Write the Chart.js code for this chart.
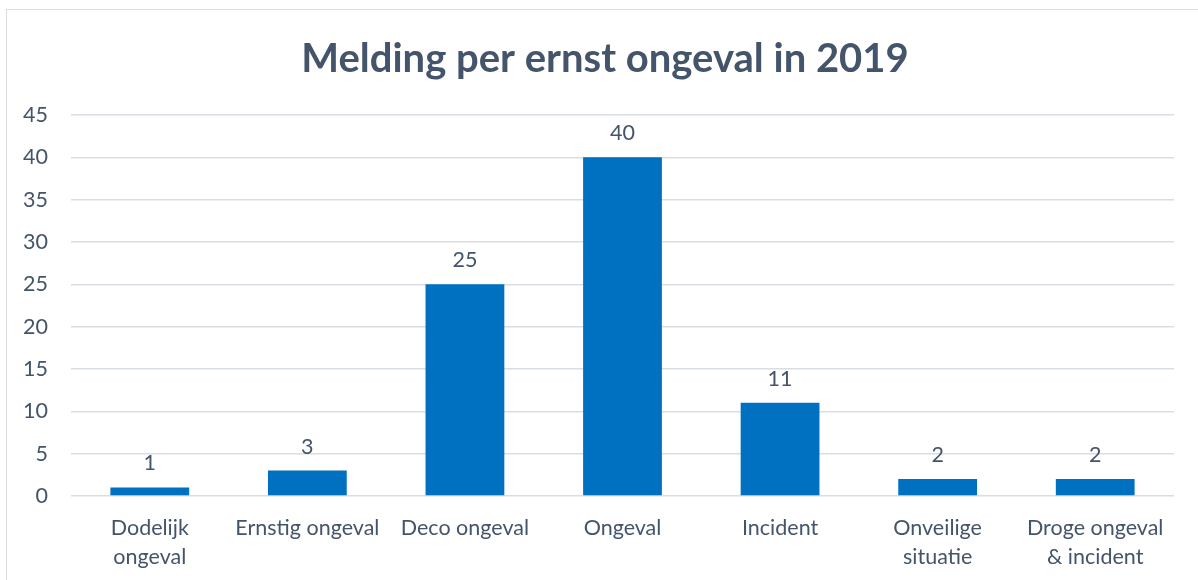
<!DOCTYPE html>
<html>
<head>
<meta charset="utf-8">
<script src="https://cdn.jsdelivr.net/npm/chart.js@4/dist/chart.umd.min.js"></script>
<style>
  html, body { margin: 0; padding: 0; background: #fff; overflow: hidden; }
  #wrap { position: relative; width: 1198px; height: 580px; }
  #frame { position: absolute; left: 6px; top: 9px; width: 1200px; height: 600px; border: 1.5px solid #D9DEE4; box-sizing: border-box; pointer-events: none; }
  canvas { position: absolute; left: 0; top: 0; }
</style>
</head>
<body>
<div id="wrap">
  <div id="frame"></div>
  <canvas id="c" width="1198" height="580"></canvas>
</div>
<script>
const chartTitle = "Melding per ernst ongeval in 2019";
const categories = [
  ["Dodelijk", "ongeval"],
  "Ernstig ongeval",
  "Deco ongeval",
  "Ongeval",
  "Incident",
  ["Onveilige", "situatie"],
  ["Droge ongeval", "& incident"]
];
const values = [1, 3, 25, 40, 11, 2, 2];
const yTicks = [0, 5, 10, 15, 20, 25, 30, 35, 40, 45];

const FONT = "Lato, 'Open Sans', sans-serif";
const TEXT = "#44546A";
const GRID = "#D9DEE4";

const valueLabels = {
  id: "valueLabels",
  afterDatasetsDraw(chart) {
    const ctx = chart.ctx;
    const meta = chart.getDatasetMeta(0);
    ctx.save();
    ctx.font = "21.5px " + FONT;
    ctx.fillStyle = TEXT;
    ctx.textAlign = "center";
    ctx.textBaseline = "middle";
    meta.data.forEach((bar, i) => {
      ctx.fillText(String(chart.data.datasets[0].data[i]), bar.x, bar.y - 24);
    });
    ctx.restore();
  }
};

// centre the title over the framed area (as in the reference)
const titleShift = {
  id: "titleShift",
  afterLayout(chart) {
    const t = chart.titleBlock;
    if (t) { t.left = 36; t.right = 1174; t.width = t.right - t.left; }
  }
};

new Chart(document.getElementById("c"), {
  type: "bar",
  data: {
    labels: categories,
    datasets: [{
      data: values,
      backgroundColor: "#0070C0",
      borderWidth: 0,
      barPercentage: 0.5,
      categoryPercentage: 1.0
    }]
  },
  options: {
    responsive: false,
    animation: false,
    devicePixelRatio: 1,
    layout: { padding: { top: 10, right: 24, bottom: 0, left: 0 } },
    plugins: {
      legend: { display: false },
      tooltip: { enabled: false },
      title: {
        display: true,
        text: chartTitle,
        color: TEXT,
        font: { family: FONT, size: 40, weight: "bold", lineHeight: 1.2 },
        padding: { top: 25, bottom: 32 }
      }
    },
    scales: {
      x: {
        offset: true,
        afterFit(scale) { scale.height = 84; },
        grid: { display: false, drawTicks: false },
        border: { display: false },
        ticks: {
          color: TEXT,
          font: { family: FONT, size: 21.5, lineHeight: 1.35 },
          padding: 18,
          maxRotation: 0,
          minRotation: 0,
          autoSkip: false
        }
      },
      y: {
        min: 0,
        max: 45,
        afterFit(scale) { scale.width = 71; },
        afterBuildTicks(scale) { scale.ticks = yTicks.map(v => ({ value: v })); },
        grid: { color: GRID, lineWidth: 1.5, drawTicks: false },
        border: { display: false },
        ticks: {
          color: TEXT,
          font: { family: FONT, size: 21.5 },
          padding: 23
        }
      }
    }
  },
  plugins: [valueLabels, titleShift]
});
</script>
</body>
</html>
